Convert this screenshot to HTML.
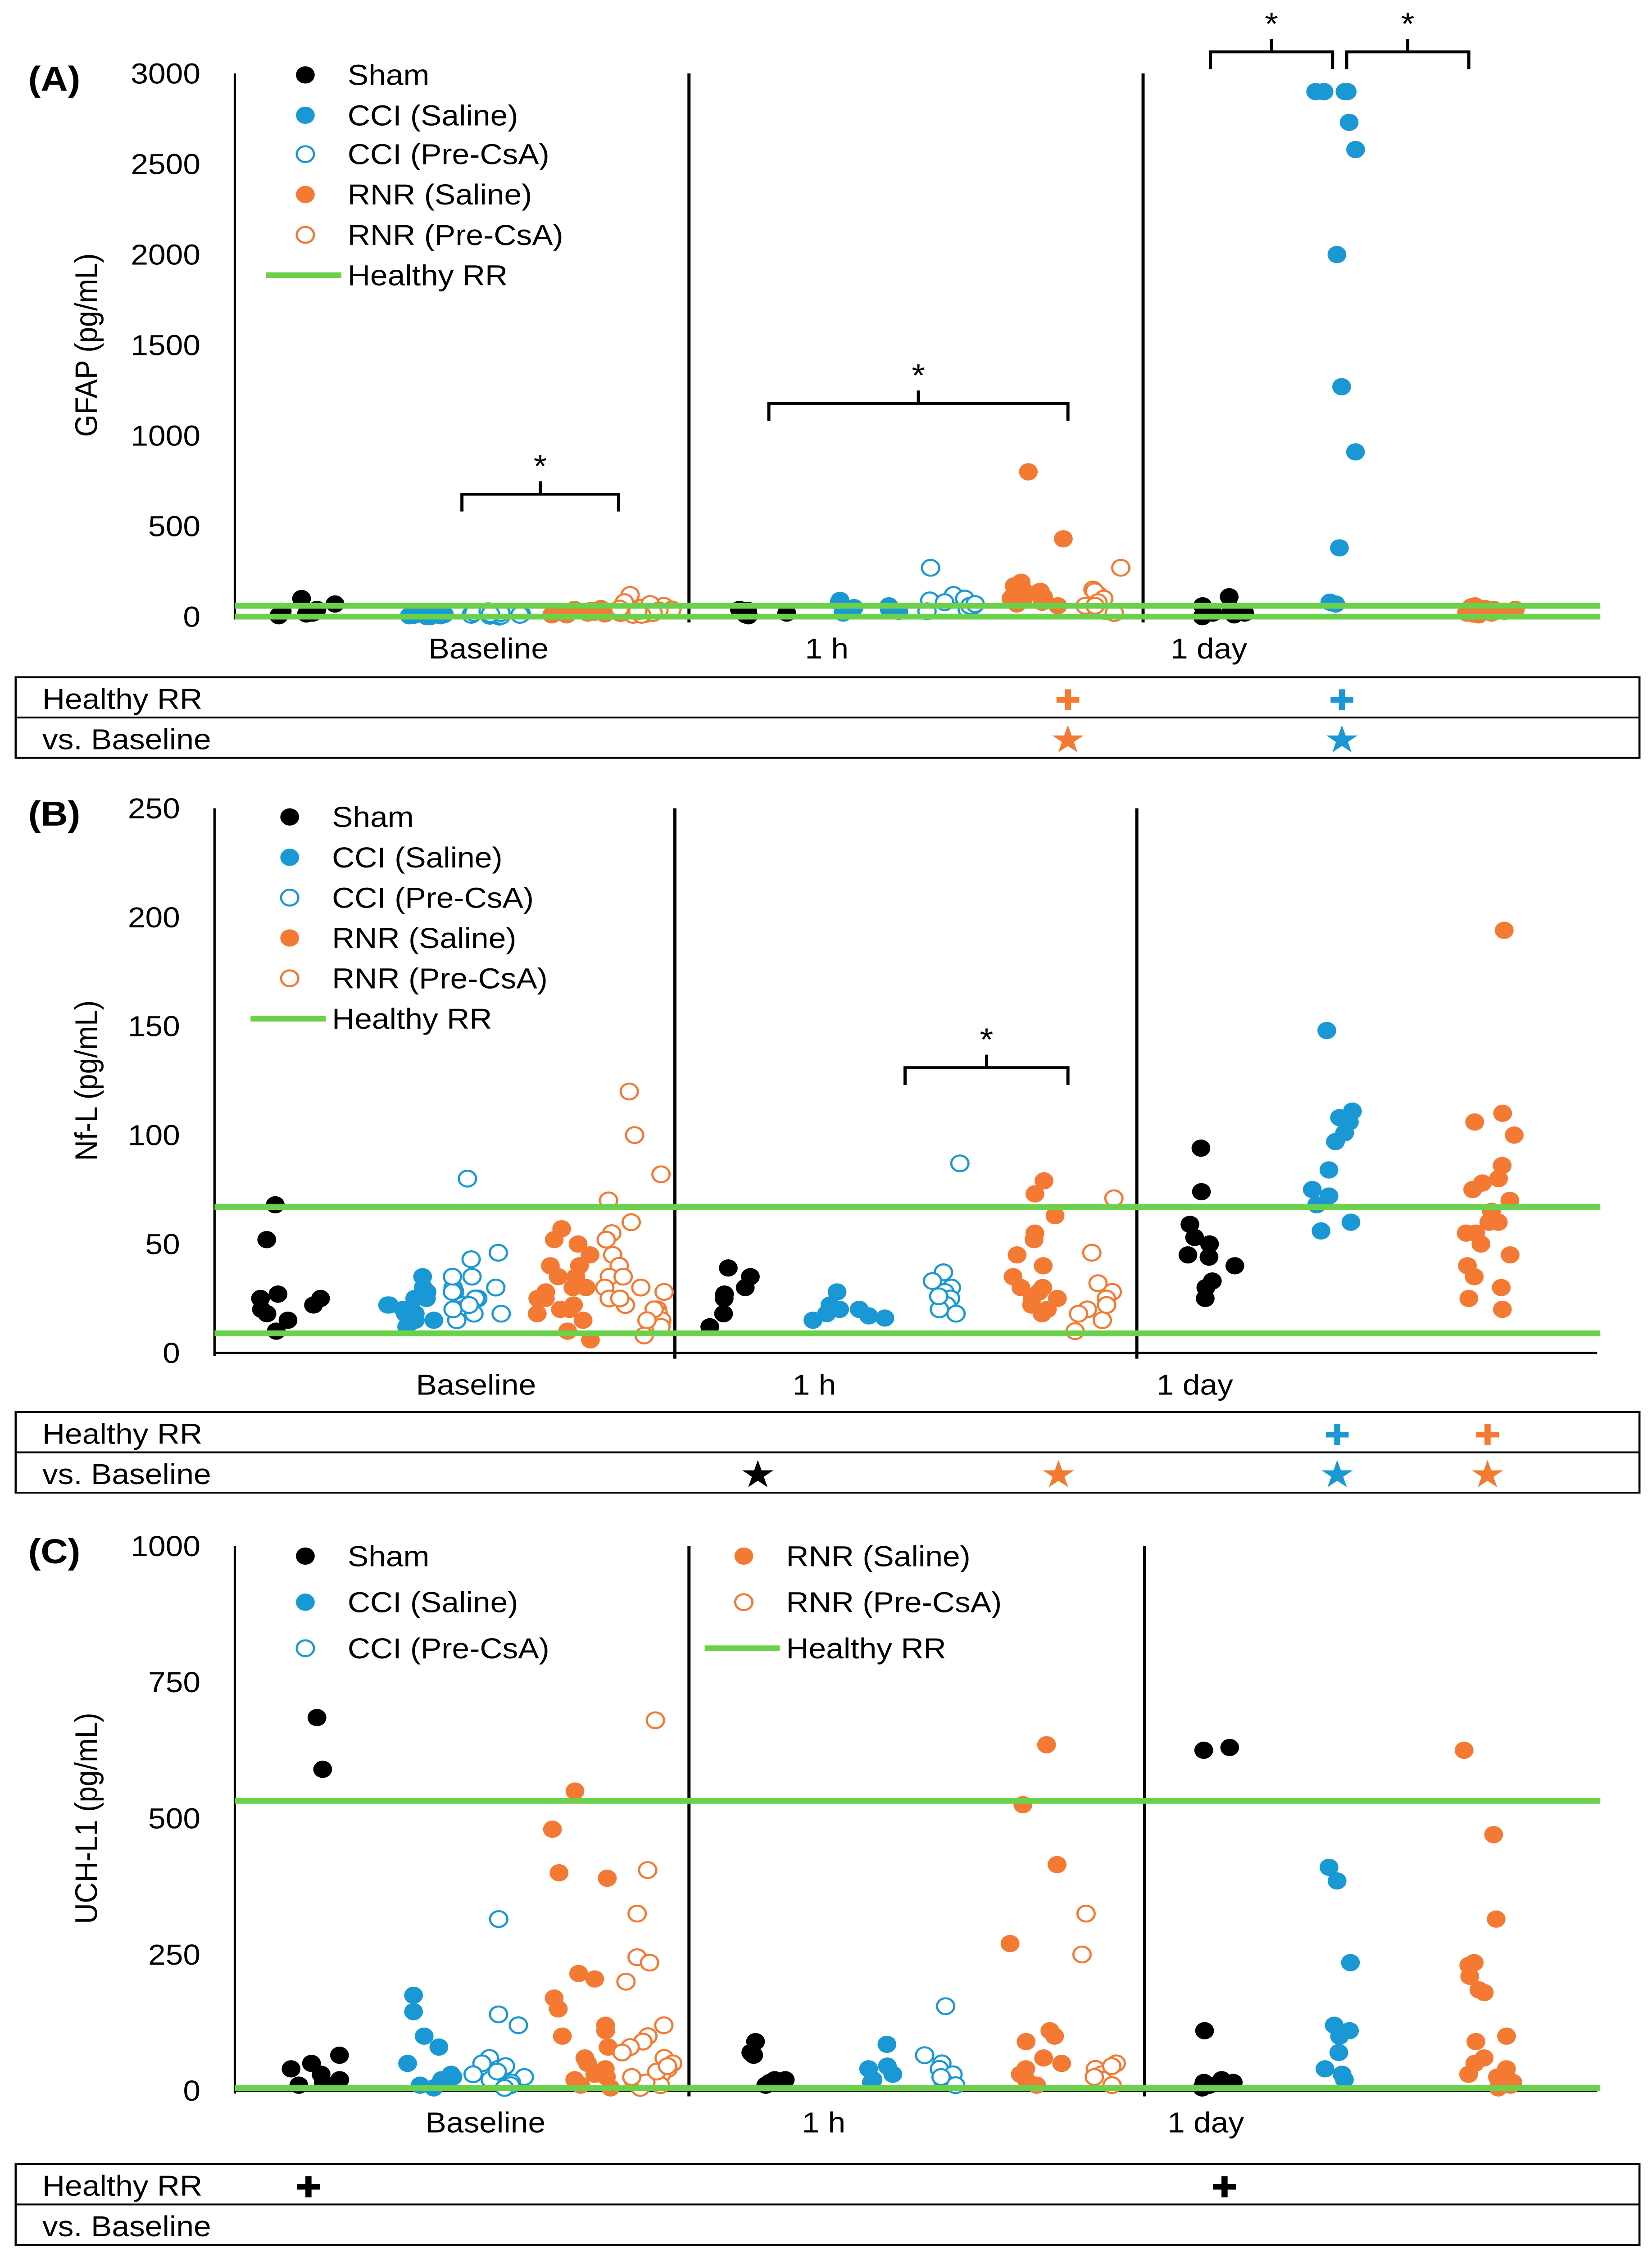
<!DOCTYPE html>
<html><head><meta charset="utf-8"><style>
html,body{margin:0;padding:0;background:#fff;width:100%;height:100%;overflow:hidden}
svg{display:block;position:absolute;left:0;top:0;width:100vw;height:100vh}
text{font-family:"Liberation Sans",sans-serif;fill:#000}
</style></head><body>
<svg id="fig" width="100%" height="100%" viewBox="0 0 1055 1563" preserveAspectRatio="none" xmlns="http://www.w3.org/2000/svg">
</svg>
<script>
// ---------- DATA ----------
const categories = ["Baseline","1 h","1 day"];
const seriesNames = ["Sham","CCI (Saline)","CCI (Pre-CsA)","RNR (Saline)","RNR (Pre-CsA)"];
const ticksA = [0,500,1000,1500,2000,2500,3000];
const ticksB = [0,50,100,150,200,250];
const ticksC = [0,250,500,750,1000];
const healthyA = [0,60];
const healthyB = [9,67];
const healthyC = [5,532];
// GFAP
const gfapBLSham=[5,70,30,20,100,15,40];
const gfapBLCCI=[5,10,0,15,8,12,5,0,20,10];
const gfapBLCCIPre=[10,20,5,30,15,0,25,10,5,20,15,10];
const gfapBLRNR=[20,40,10,30,25,15,35,20,45,10,30,25,20];
const gfapBLRNRPre=[120,60,30,20,80,10,40,50,25,15,70,35,20,45,10,30];
const gfap1hSham=[40,10,30,20,5,35];
const gfap1hCCI=[30,60,90,80,40,20,50];
const gfap1hCCIPre=[270,90,60,120,40,80,100,30,60,70];
const gfap1hRNR=[800,430,190,150,100,120,80,60,140,170,110,90,130,70,100];
const gfap1hRNRPre=[270,150,120,90,60,30,140,100,80,60,20];
const gfapDSham=[110,40,20,10,60,0,30,20];
const gfapDCCI=[2900,2900,2900,2900,2730,2580,2000,1270,910,380,70,80];
const gfapDRNR=[30,50,20,40,60,10,35,25,45,15,55,30,20,40];
// Nf-L
const nflBLSham=[68,52,27,25,22,20,18,15,10,25];
const nflBLCCI=[35,28,25,22,20,18,15,12,25,30,20,15,22,18];
const nflBLCCIPre=[80,46,43,35,30,28,25,22,20,18,15,30,25,20,28,22,18,35];
const nflBLRNR=[57,52,50,45,40,35,30,25,22,20,18,15,10,6,30,28,25,40,35,20];
const nflBLRNRPre=[120,100,82,70,60,55,52,45,40,35,30,28,25,22,20,18,15,12,8,35,30,25,20,15];
const nfl1hSham=[39,35,30,27,25,18,12];
const nfl1hCCI=[28,22,20,18,16,15,17,20];
const nfl1hCCIPre=[87,37,33,30,28,25,22,20,18,26];
const nfl1hRNR=[79,73,63,55,52,45,40,35,30,28,25,22,20,18,25,30];
const nfl1hRNRPre=[71,46,32,28,25,22,20,18,15,10];
const nflDSham=[94,74,59,53,50,45,44,40,33,30,25];
const nflDCCI=[148,111,108,101,97,84,75,72,68,60,56,106];
const nflDRNR=[194,110,106,100,86,80,78,75,70,65,60,55,50,45,40,35,30,25,20,60,55];
// UCH-L1
const uchBLSham=[685,590,65,50,40,20,10,15,30];
const uchBLCCI=[175,145,100,80,50,30,20,10,15,5,25];
const uchBLCCIPre=[315,140,120,60,50,40,30,25,20,15,10,5,45,35];
const uchBLRNR=[550,480,400,390,215,205,170,150,120,110,100,80,60,40,30,20,10,5,50,25];
const uchBLRNRPre=[680,405,325,245,235,200,120,100,90,80,70,60,50,40,30,20,10,5,15,25,35,45];
const uch1hSham=[90,70,65,20,15,10,20];
const uch1hCCI=[85,45,40,30,20,15];
const uch1hCCIPre=[155,65,50,40,30,20,10,25];
const uch1hRNR=[635,525,415,270,110,100,90,60,40,30,20,10,50];
const uch1hRNRPre=[325,250,50,40,30,20,10,25,45];
const uchDSham=[630,625,110,20,15,10,5,15];
const uchDCCI=[410,385,235,120,110,100,70,40,30,20];
const uchDRNR=[625,470,315,235,230,210,185,180,100,90,60,50,40,30,20,10,5,25,15];

// ---------- DRAW ----------
const NS="http://www.w3.org/2000/svg";
const svg=document.getElementById('fig');
const BLUE="#1a98d5",ORANGE="#f47932",GREEN="#6cd14a";
const styles=[{c:"#000",f:1},{c:BLUE,f:1},{c:BLUE,f:0},{c:ORANGE,f:1},{c:ORANGE,f:0}];
function mk(tag,attrs,parent){const e=document.createElementNS(NS,tag);for(const k in attrs)e.setAttribute(k,attrs[k]);(parent||svg).appendChild(e);return e;}
function txt(x,y,s,size,anchor,parent,extra){const t=mk('text',Object.assign({x:x,y:y,'font-size':size,'text-anchor':anchor||'start'},extra||{}),parent);t.textContent=s;return t;}
function jit(i,g){const v=Math.sin(i*12.9898+g*78.233)*43758.5453;return v-Math.floor(v);}

function panel(p){
  const g=mk('g',{});
  
  
  const yS=v=>p.y0-(v/p.max)*(p.y0-p.yTop);
  const pl=txt(18,p.yTop+12,p.label,24,'start',g,{'font-weight':'bold'});
  
  p.ticks.forEach(t=>{const e=txt(p.tickX,yS(t)+7,String(t),20,'end',g);});
  const yt=txt(0,0,p.ytitle,20,'middle',g,{transform:`translate(${p.titleX},${(p.yTop+p.y0)/2}) rotate(-90)`});
  
  const ya=mk('line',{x1:p.axX,y1:p.yTop,x2:p.axX,y2:p.y0+2,stroke:'#000','stroke-width':1.5},g);
  
  const xa=mk('line',{x1:p.axX,y1:p.y0,x2:1020,y2:p.y0,stroke:'#000','stroke-width':1.5},g);
  
  p.divs.forEach(d=>{const l=mk('line',{x1:d,y1:p.yTop,x2:d,y2:p.y0+4,stroke:'#000','stroke-width':2},g);});
  categories.forEach((c,i)=>{const e=txt(p.catX[i],p.y0+29,c,20,'middle',g);});
  p.groups.forEach((gr,gi)=>{
    const st=styles[gr.s];
    gr.d.forEach((v,i)=>{
      const x=gr.x0+jit(i,gi+p.seed)*(gr.x1-gr.x0);
      const c=mk('circle',{cx:x,cy:yS(v),r:st.f?6:5.5,fill:st.f?st.c:'#fff',stroke:st.c,'stroke-width':st.f?0:1.4},g);
      
      
    });
  });
  p.healthy.forEach(h=>{const l=mk('line',{x1:p.axX,y1:yS(h),x2:1022,y2:yS(h),stroke:GREEN,'stroke-width':4},g);});
  p.legend.forEach((L,i)=>{
    const lg=mk('g',{},g);
    
    
    if(L.s===-1){mk('line',{x1:L.x-25,y1:L.y,x2:L.x+23,y2:L.y,stroke:GREEN,'stroke-width':4},lg);txt(L.x+27,L.y+7,'Healthy RR',20,'start',lg);}
    else{const st=styles[L.s];mk('circle',{cx:L.x,cy:L.y,r:st.f?6:5.5,fill:st.f?st.c:'#fff',stroke:st.c,'stroke-width':st.f?0:1.4},lg);txt(L.x+27,L.y+7,seriesNames[L.s],20,'start',lg);}
  });
  (p.brackets||[]).forEach(b=>{
    const bg=mk('g',{},g);
    
    
    mk('path',{d:`M${b[0]},${b[2]+12}V${b[2]}H${b[1]}V${b[2]+12}M${(b[0]+b[1])/2},${b[2]}V${b[2]-9}`,fill:'none',stroke:'#000','stroke-width':2},bg);
    txt((b[0]+b[1])/2,b[2]-12,'*',22,'middle',bg);
  });
  const tb=mk('g',{},g);
  
  
  const t0=p.tab;
  mk('rect',{x:10,y:t0,width:1037,height:56,fill:'none',stroke:'#000','stroke-width':1.3},tb);
  mk('line',{x1:10,y1:t0+28,x2:1047,y2:t0+28,stroke:'#000','stroke-width':1.3},tb);
  txt(27,t0+22,'Healthy RR',20,'start',tb);
  txt(27,t0+50,'vs. Baseline',20,'start',tb);
  p.crosses.forEach(c=>{const e=txt(c[0],t0+23,'✚',20,'middle',tb,{style:'fill:'+c[1]});});
  p.stars.forEach(c=>{const e=txt(c[0],t0+52,'★',26,'middle',tb,{style:'fill:'+c[1]});});
}

panel({name:'panel-a-gfap',label:'(A)',seed:0,yTop:51,y0:428,max:3000,ticks:ticksA,tickX:128,titleX:62,ytitle:'GFAP (pg/mL)',axX:150,divs:[440,730],catX:[312,528,772],healthy:healthyA,
 groups:[{s:0,x0:178,x1:217,d:gfapBLSham},{s:1,x0:255,x1:290,d:gfapBLCCI},{s:2,x0:300,x1:335,d:gfapBLCCIPre},{s:3,x0:350,x1:390,d:gfapBLRNR},{s:4,x0:395,x1:430,d:gfapBLRNRPre},
 {s:0,x0:470,x1:510,d:gfap1hSham},{s:1,x0:535,x1:575,d:gfap1hCCI},{s:2,x0:590,x1:625,d:gfap1hCCIPre},{s:3,x0:645,x1:680,d:gfap1hRNR},{s:4,x0:690,x1:718,d:gfap1hRNRPre},
 {s:0,x0:758,x1:795,d:gfapDSham},{s:1,x0:840,x1:866,d:gfapDCCI},{s:3,x0:935,x1:968,d:gfapDRNR}],
 legend:[{s:0,x:195,y:52},{s:1,x:195,y:80},{s:2,x:195,y:107},{s:3,x:195,y:135},{s:4,x:195,y:163},{s:-1,x:195,y:191}],
 brackets:[[295,395,343],[491,682,280],[773,851,36],[860,938,36]],
 tab:470,crosses:[[682,ORANGE],[857,BLUE]],stars:[[682,ORANGE],[857,BLUE]]});

panel({name:'panel-b-nfl',label:'(B)',seed:20,yTop:561,y0:939,max:250,ticks:ticksB,tickX:115,titleX:62,ytitle:'Nf-L (pg/mL)',axX:137,divs:[431,726],catX:[304,520,763],healthy:healthyB,
 groups:[{s:0,x0:165,x1:210,d:nflBLSham},{s:1,x0:245,x1:280,d:nflBLCCI},{s:2,x0:288,x1:322,d:nflBLCCIPre},{s:3,x0:342,x1:378,d:nflBLRNR},{s:4,x0:385,x1:425,d:nflBLRNRPre},
 {s:0,x0:450,x1:500,d:nfl1hSham},{s:1,x0:515,x1:570,d:nfl1hCCI},{s:2,x0:585,x1:615,d:nfl1hCCIPre},{s:3,x0:640,x1:680,d:nfl1hRNR},{s:4,x0:685,x1:712,d:nfl1hRNRPre},
 {s:0,x0:757,x1:790,d:nflDSham},{s:1,x0:838,x1:864,d:nflDCCI},{s:3,x0:935,x1:968,d:nflDRNR}],
 legend:[{s:0,x:185,y:567},{s:1,x:185,y:595},{s:2,x:185,y:623},{s:3,x:185,y:651},{s:4,x:185,y:679},{s:-1,x:185,y:707}],
 brackets:[[578,682,741]],
 tab:980,crosses:[[854,BLUE],[950,ORANGE]],stars:[[484,'#000'],[676,ORANGE],[854,BLUE],[950,ORANGE]]});

panel({name:'panel-c-uchl1',label:'(C)',seed:40,yTop:1073,y0:1451,max:1000,ticks:ticksC,tickX:128,titleX:62,ytitle:'UCH-L1 (pg/mL)',axX:150,divs:[440,731],catX:[310,526,770],healthy:healthyC,
 groups:[{s:0,x0:178,x1:217,d:uchBLSham},{s:1,x0:258,x1:290,d:uchBLCCI},{s:2,x0:300,x1:335,d:uchBLCCIPre},{s:3,x0:350,x1:390,d:uchBLRNR},{s:4,x0:395,x1:430,d:uchBLRNRPre},
 {s:0,x0:470,x1:510,d:uch1hSham},{s:1,x0:550,x1:575,d:uch1hCCI},{s:2,x0:590,x1:620,d:uch1hCCIPre},{s:3,x0:645,x1:680,d:uch1hRNR},{s:4,x0:690,x1:715,d:uch1hRNRPre},
 {s:0,x0:760,x1:795,d:uchDSham},{s:1,x0:840,x1:865,d:uchDCCI},{s:3,x0:935,x1:968,d:uchDRNR}],
 legend:[{s:0,x:195,y:1080},{s:1,x:195,y:1112},{s:2,x:195,y:1144},{s:3,x:475,y:1080},{s:4,x:475,y:1112},{s:-1,x:475,y:1144}],
 brackets:[],
 tab:1502,crosses:[[197,'#000'],[782,'#000']],stars:[]});
</script>
</body></html>
